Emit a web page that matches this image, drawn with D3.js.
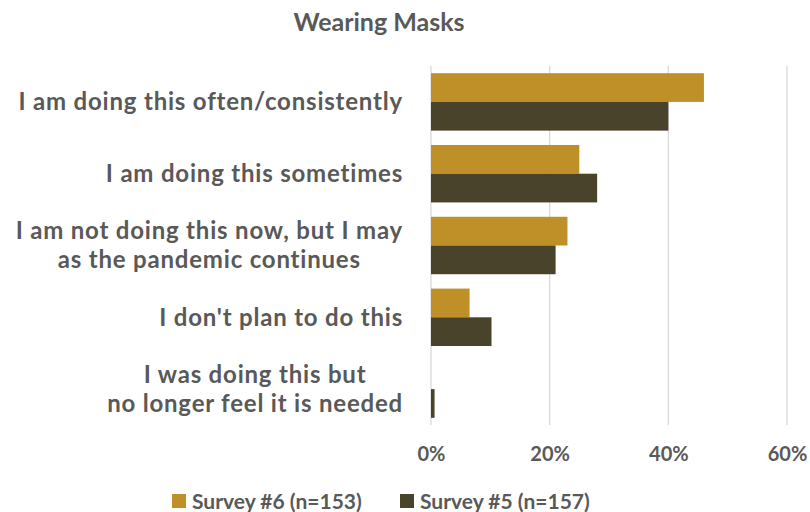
<!DOCTYPE html>
<html><head><meta charset="utf-8">
<script src="https://cdn.jsdelivr.net/npm/d3@7"></script>
<style>
html,body{margin:0;padding:0;background:#fff;}
svg{display:block;font-family:Lato,"Open Sans",sans-serif;font-weight:700;}
</style></head>
<body>
<svg id="chart" width="810" height="512"></svg>
<script>
const title = "Wearing Masks";
const categories = [
  ["I am doing this often/consistently"],
  ["I am doing this sometimes"],
  ["I am not doing this now, but I may", "as the pandemic continues"],
  ["I don't plan to do this"],
  ["I was doing this but", "no longer feel it is needed"]
];
const seriesNames = ["Survey #6 (n=153)", "Survey #5 (n=157)"];
const survey6 = [46, 25, 23, 6.5, 0];
const survey5 = [40, 28, 21, 10.2, 0.6];
const xTicks = [0, 20, 40, 60];
const colors = ["#BF9028", "#4A432B"];

const svg = d3.select("#chart");
const textColor = "#595959";
const catKeys = categories.map((c, i) => String(i));

const x = d3.scaleLinear().domain([0, 60]).range([431, 787]);
const y = d3.scaleBand().domain(catKeys).range([66, 425]).paddingInner(0.2).paddingOuter(0.1);
const ySub = d3.scaleBand().domain(["0", "1"]).range([0, y.bandwidth()]);

// title
svg.append("text").attr("x", 379).attr("y", 31).attr("text-anchor", "middle")
  .attr("fill", textColor).attr("font-size", 25).text(title);

// gridlines
svg.append("g").selectAll("line").data(xTicks).join("line")
  .attr("x1", d => x(d)).attr("x2", d => x(d))
  .attr("y1", 66).attr("y2", 425)
  .attr("stroke", "#d9d9d9").attr("stroke-width", 1.3);

// x axis labels
const xAxis = d3.axisBottom(x).tickValues(xTicks).tickFormat(d => d + "%").tickSize(0).tickPadding(0);
const gx = svg.append("g").attr("transform", "translate(0,447)").call(xAxis);
gx.select(".domain").remove();
gx.selectAll("text").attr("fill", textColor).attr("font-size", 20)
  .attr("font-family", "Lato, sans-serif").attr("font-weight", 700);

// bars
const rows = categories.map((c, i) => ({key: String(i), vals: [survey6[i], survey5[i]]}));
const groups = svg.append("g").selectAll("g").data(rows).join("g")
  .attr("transform", d => `translate(0,${y(d.key)})`);
groups.selectAll("rect").data(d => d.vals.map((v, j) => ({v, j}))).join("rect")
  .attr("x", x(0)).attr("y", d => ySub(String(d.j)))
  .attr("width", d => x(d.v) - x(0)).attr("height", ySub.bandwidth())
  .attr("fill", d => colors[d.j]);

// category labels
const labelRight = 403;
const lineH = 29;
categories.forEach((lines, i) => {
  const cy = y(String(i)) + y.bandwidth() / 2;
  const g = svg.append("g");
  const texts = lines.map((ln, k) => g.append("text")
    .attr("fill", textColor).attr("font-size", 24).attr("letter-spacing", 0.8)
    .attr("y", cy + (k - (lines.length - 1) / 2) * lineH)
    .attr("dy", "0.35em").text(ln));
  const maxW = d3.max(texts, t => t.node().getComputedTextLength());
  texts.forEach(t => t.attr("text-anchor", "middle").attr("x", labelRight - maxW / 2));
});

// legend
const legendX = [172, 400];
seriesNames.forEach((name, j) => {
  svg.append("rect").attr("x", legendX[j]).attr("y", 494).attr("width", 14).attr("height", 14)
    .attr("fill", colors[j]);
  svg.append("text").attr("x", legendX[j] + 20).attr("y", 509)
    .attr("fill", textColor).attr("font-size", 21).text(name);
});
</script>
</body></html>
